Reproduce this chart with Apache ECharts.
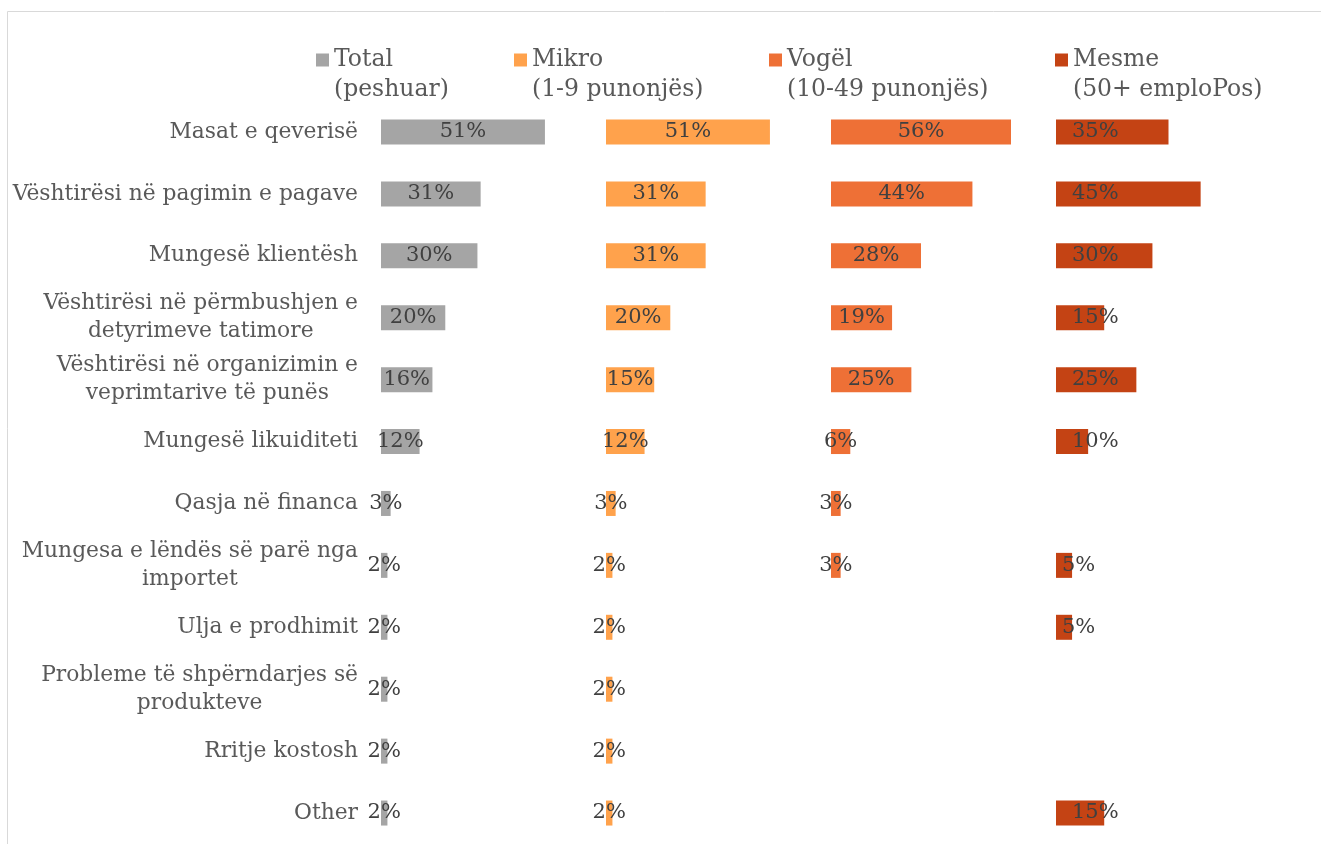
<!DOCTYPE html>
<html>
<head>
<meta charset="utf-8">
<script src="https://cdn.jsdelivr.net/npm/echarts@6/dist/echarts.min.js"></script>
<style>
  html, body { margin: 0; padding: 0; background: #fff; }
  #chart { width: 1321px; height: 844px; }
</style>
</head>
<body>
<div id="chart"></div>
<script>
// kategoritë (nga lart poshtë)
var categories = [
  'Masat e qeverisë',
  'Vështirësi në pagimin e pagave',
  'Mungesë klientësh',
  'Vështirësi në përmbushjen e\ndetyrimeve tatimore',
  'Vështirësi në organizimin e\nveprimtarive të punës',
  'Mungesë likuiditeti',
  'Qasja në financa',
  'Mungesa e lëndës së parë nga\nimportet',
  'Ulja e prodhimit',
  'Probleme të shpërndarjes së\nprodukteve',
  'Rritje kostosh',
  'Other'
];
var seriesNames = ['Total\n(peshuar)', 'Mikro\n(1-9 punonjës)', 'Vogël\n(10-49 punonjës)', 'Mesme\n(50+ emploPos)'];
var total = [51, 31, 30, 20, 16, 12, 3, 2, 2, 2, 2, 2];
var mikro = [51, 31, 31, 20, 15, 12, 3, 2, 2, 2, 2, 2];
var vogel = [56, 44, 28, 19, 25, 6, 3, 3, null, null, null, null];
var mesme = [35, 45, 30, 15, 25, 10, null, 5, 5, null, null, 15];

var colors = ['#A5A5A5', '#FFA24C', '#EE7036', '#C44314'];
var panelLeft = [381, 606, 831, 1056];
var legendLeft = [316, 514, 769, 1055];
var FONT = 'DejaVu Serif';

var chart = echarts.init(document.getElementById('chart'));

var grids = [], xAxes = [], yAxes = [], series = [], legends = [];
[total, mikro, vogel, mesme].forEach(function (vals, i) {
  grids.push({ left: panelLeft[i], top: 101, width: 225, height: 748 });
  xAxes.push({ gridIndex: i, type: 'value', min: 0, max: 70, show: false });
  yAxes.push({
    gridIndex: i, type: 'category', data: categories, inverse: true,
    axisLine: { show: false }, axisTick: { show: false },
    axisLabel: {
      show: i === 0, margin: 23, align: 'right',
      formatter: function (v) {
        return v.split('\n').map(function (s) { return '{c|' + s + '}'; }).join('\n');
      },
      rich: { c: { align: 'center', fontFamily: FONT, fontSize: 21.8, color: '#595959', lineHeight: 28 } }
    }
  });
  var data = vals.map(function (v) {
    // Mesme: etiketat e zhvendosura majtas si në origjinal
    if (i === 3 && v != null) {
      return { value: v, label: { position: 'insideLeft', distance: v < 8 ? 6 : 16 } };
    }
    return v;
  });
  series.push({
    name: seriesNames[i], type: 'bar', xAxisIndex: i, yAxisIndex: i,
    data: data, barWidth: 25, itemStyle: { color: colors[i] },
    label: {
      show: true, position: 'inside', formatter: '{c}%',
      fontFamily: FONT, fontSize: 21, color: '#404040'
    }
  });
  legends.push({
    left: legendLeft[i], top: 15, padding: 0, data: [seriesNames[i]],
    itemWidth: 13, itemHeight: 13,
    icon: 'rect',
    formatter: function (n) { return '\n' + n; },
    textStyle: { fontFamily: FONT, fontSize: 23.5, color: '#595959', lineHeight: 30 }
  });
});

chart.setOption({
  animation: false,
  color: colors,
  grid: grids,
  xAxis: xAxes,
  yAxis: yAxes,
  legend: legends,
  series: series,
  graphic: [{
    type: 'rect', silent: true,
    shape: { x: 7.5, y: 11.5, width: 1400, height: 900 },
    style: { fill: 'none', stroke: '#d9d9d9', lineWidth: 1 }
  }]
});
</script>
</body>
</html>
